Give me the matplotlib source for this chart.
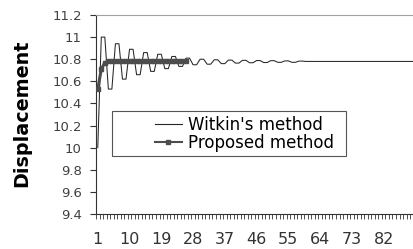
import numpy as np
import matplotlib
matplotlib.use('Agg')
from matplotlib import pyplot as plt
from matplotlib.patches import Rectangle
from matplotlib.lines import Line2D

# values (one per category, 1..91)
witkin = [10.0,
          11.0, 11.0, 10.53, 10.53, 10.94, 10.94, 10.62, 10.62,
          10.89, 10.89, 10.66, 10.66, 10.86, 10.86, 10.69, 10.69,
          10.845, 10.845, 10.715, 10.715, 10.825, 10.825, 10.735, 10.735,
          10.81, 10.81, 10.75, 10.75, 10.80, 10.80, 10.755, 10.755,
          10.795, 10.795, 10.76, 10.76, 10.792, 10.792, 10.765, 10.765,
          10.79, 10.79, 10.768, 10.768, 10.788, 10.788, 10.77, 10.77,
          10.787, 10.787, 10.772, 10.772, 10.785, 10.785, 10.772, 10.772,
          10.783, 10.783, 10.78, 10.78, 10.78, 10.78, 10.78, 10.78,
          10.78, 10.78, 10.78, 10.78, 10.78, 10.78, 10.78, 10.78,
          10.78, 10.78, 10.78, 10.78, 10.78, 10.78, 10.78, 10.78,
          10.78, 10.78, 10.78, 10.78, 10.78, 10.78, 10.78, 10.78,
          10.78, 10.78]
proposed = [10.53, 10.71, 10.77, 10.78, 10.78, 10.785, 10.785, 10.785,
            10.785, 10.785, 10.785, 10.785, 10.785, 10.785, 10.785, 10.785,
            10.785, 10.785, 10.785, 10.785, 10.785, 10.785, 10.785, 10.785,
            10.785, 10.785]
x_labels = [1, 10, 19, 28, 37, 46, 55, 64, 73, 82]
y_ticks = [9.4, 9.6, 9.8, 10.0, 10.2, 10.4, 10.6, 10.8, 11.0, 11.2]
series_names = ["Witkin's method", "Proposed method"]

W, H = 414, 249
fig = plt.figure(figsize=(W / 100, H / 100), dpi=100)
ax = fig.add_axes([96 / W, 1 - 214 / H, 318 / W, 199 / H])

cats = np.arange(1, len(witkin) + 1)
ax.plot(cats, witkin, color='#262626', lw=0.75, zorder=2)
ax.plot(cats[:len(proposed)], proposed, color='#4d4d4d', lw=2.2,
        marker='s', ms=3.2, zorder=3)

ax.set_xlim(0.5, 90.6)
ax.set_ylim(9.4, 11.2)

ax.set_xticks(x_labels)
ax.set_xticklabels([str(v) for v in x_labels])
ax.set_xticks(np.arange(0.5, 91, 1), minor=True)
ax.tick_params(axis='x', which='major', length=0, pad=13, labelsize=11.5,
               labelcolor='#333333')
ax.tick_params(axis='x', which='minor', length=3.5, width=0.6, color='#333333')

ax.set_yticks(y_ticks)
ax.set_yticklabels(['%g' % round(v, 1) for v in y_ticks])
ax.tick_params(axis='y', length=4.3, width=0.8, pad=6, labelsize=9.5,
               labelcolor='#404040', color='#333333')

ax.spines['right'].set_visible(False)
ax.spines['top'].set_color('#a0a0a0')
ax.spines['left'].set_color('#333333')
ax.spines['bottom'].set_color('#333333')

fig.text(22 / W, 1 - 113.5 / H, 'Displacement', rotation=90, fontsize=13.8,
         fontweight='bold', ha='center', va='center')

# legend box
ax.add_patch(Rectangle((16 / 318, (214 - 155.7) / 199), 234 / 318, 44.7 / 199,
                       transform=ax.transAxes, facecolor='white',
                       edgecolor='#555555', lw=0.8, zorder=4))
handles = [Line2D([], [], color='#262626', lw=0.8),
           Line2D([], [], color='#4d4d4d', lw=1.5, marker='s', ms=3.2)]
leg = ax.legend(handles, series_names, loc='center left',
                bbox_to_anchor=((155 - 96) / 318, (214 - 133.7) / 199),
                frameon=False, fontsize=12, borderpad=0, borderaxespad=0,
                handlelength=1.6, handletextpad=0.4, labelspacing=0)
leg.set_zorder(5)

fig.savefig('out.png', dpi=100)
